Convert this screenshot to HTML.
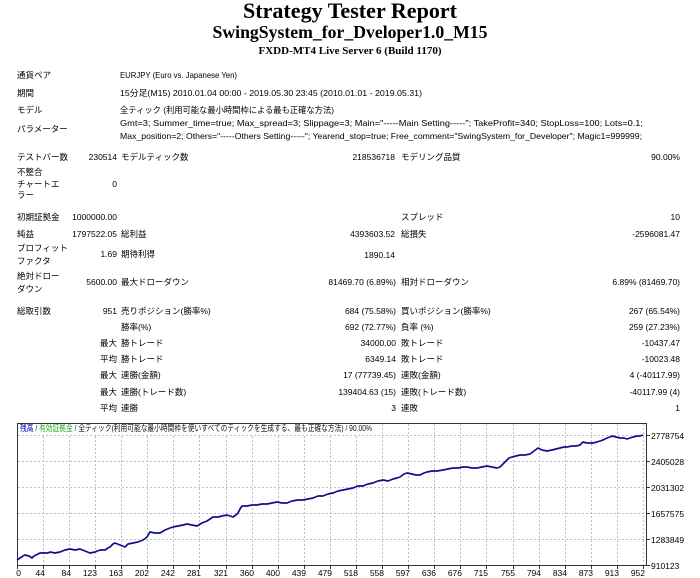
<!DOCTYPE html>
<html><head><meta charset="utf-8"><style>
html,body{margin:0;padding:0;background:#fff;}
svg{display:block;}
.t{font-family:"Liberation Sans","Noto Sans CJK JP",sans-serif;font-size:8.5px;fill:#000;}
.h{font-family:"Liberation Serif","Noto Serif CJK SC",serif;font-weight:bold;fill:#000;}
.r{text-anchor:end;}
.ax{font-family:"Liberation Sans",sans-serif;font-size:8.5px;fill:#000;}
</style></head><body>
<svg width="700" height="578" viewBox="0 0 700 578" xmlns="http://www.w3.org/2000/svg">
<rect width="700" height="578" fill="#fff"/>
<!-- headers -->
<text class="h" x="350" y="18" font-size="22" text-anchor="middle" textLength="214" lengthAdjust="spacingAndGlyphs">Strategy Tester Report</text>
<text class="h" x="350" y="38" font-size="18" text-anchor="middle" textLength="275" lengthAdjust="spacingAndGlyphs">SwingSystem_for_Dveloper1.0_M15</text>
<text class="h" x="350" y="54" font-size="11" text-anchor="middle" textLength="183" lengthAdjust="spacingAndGlyphs">FXDD-MT4 Live Server 6 (Build 1170)</text>

<!-- info rows -->
<text class="t" x="17" y="78">通貨ペア</text>
<text class="t" x="120" y="78" textLength="117" lengthAdjust="spacingAndGlyphs">EURJPY (Euro vs. Japanese Yen)</text>
<text class="t" x="17" y="96">期間</text>
<text class="t" x="120" y="96" textLength="302" lengthAdjust="spacingAndGlyphs">15分足(M15) 2010.01.04 00:00 - 2019.05.30 23:45 (2010.01.01 - 2019.05.31)</text>
<text class="t" x="17" y="113">モデル</text>
<text class="t" x="120" y="113" textLength="214" lengthAdjust="spacingAndGlyphs">全ティック (利用可能な最小時間枠による最も正確な方法)</text>
<text class="t" x="17" y="132">パラメーター</text>
<text class="t" x="120" y="126" textLength="523" lengthAdjust="spacingAndGlyphs">Gmt=3; Summer_time=true; Max_spread=3; Slippage=3; Main="-----Main Setting-----"; TakeProfit=340; StopLoss=100; Lots=0.1;</text>
<text class="t" x="120" y="139" textLength="522" lengthAdjust="spacingAndGlyphs">Max_position=2; Others="-----Others Setting-----"; Yearend_stop=true; Free_comment="SwingSystem_for_Developer"; Magic1=999999;</text>

<text class="t" x="17" y="160">テストバー数</text>
<text class="t r" x="117" y="160">230514</text>
<text class="t" x="121" y="160">モデルティック数</text>
<text class="t r" x="395" y="160">218536718</text>
<text class="t" x="401" y="160">モデリング品質</text>
<text class="t r" x="680" y="160">90.00%</text>

<text class="t" x="17" y="175">不整合</text>
<text class="t" x="17" y="187">チャートエ</text>
<text class="t" x="17" y="198">ラー</text>
<text class="t r" x="117" y="187">0</text>

<text class="t" x="17" y="220">初期証拠金</text>
<text class="t r" x="117" y="220">1000000.00</text>
<text class="t" x="401" y="220">スプレッド</text>
<text class="t r" x="680" y="220">10</text>

<text class="t" x="17" y="237">純益</text>
<text class="t r" x="117" y="237">1797522.05</text>
<text class="t" x="121" y="237">総利益</text>
<text class="t r" x="395" y="237">4393603.52</text>
<text class="t" x="401" y="237">総損失</text>
<text class="t r" x="680" y="237">-2596081.47</text>

<text class="t" x="17" y="251">プロフィット</text>
<text class="t" x="17" y="264">ファクタ</text>
<text class="t r" x="117" y="257">1.69</text>
<text class="t" x="121" y="257">期待利得</text>
<text class="t r" x="395" y="258">1890.14</text>

<text class="t" x="17" y="279">絶対ドロー</text>
<text class="t" x="17" y="292">ダウン</text>
<text class="t r" x="117" y="285">5600.00</text>
<text class="t" x="121" y="285">最大ドローダウン</text>
<text class="t r" x="396" y="285">81469.70 (6.89%)</text>
<text class="t" x="401" y="285">相対ドローダウン</text>
<text class="t r" x="680" y="285">6.89% (81469.70)</text>

<text class="t" x="17" y="314">総取引数</text>
<text class="t r" x="117" y="314">951</text>
<text class="t" x="121" y="314">売りポジション(勝率%)</text>
<text class="t r" x="396" y="314">684 (75.58%)</text>
<text class="t" x="401" y="314">買いポジション(勝率%)</text>
<text class="t r" x="680" y="314">267 (65.54%)</text>

<text class="t" x="121" y="330">勝率(%)</text>
<text class="t r" x="396" y="330">692 (72.77%)</text>
<text class="t" x="401" y="330">負率 (%)</text>
<text class="t r" x="680" y="330">259 (27.23%)</text>

<text class="t r" x="117" y="346">最大</text>
<text class="t" x="121" y="346">勝トレード</text>
<text class="t r" x="396" y="346">34000.00</text>
<text class="t" x="401" y="346">敗トレード</text>
<text class="t r" x="680" y="346">-10437.47</text>

<text class="t r" x="117" y="362">平均</text>
<text class="t" x="121" y="362">勝トレード</text>
<text class="t r" x="396" y="362">6349.14</text>
<text class="t" x="401" y="362">敗トレード</text>
<text class="t r" x="680" y="362">-10023.48</text>

<text class="t r" x="117" y="378">最大</text>
<text class="t" x="121" y="378">連勝(金額)</text>
<text class="t r" x="396" y="378">17 (77739.45)</text>
<text class="t" x="401" y="378">連敗(金額)</text>
<text class="t r" x="680" y="378">4 (-40117.99)</text>

<text class="t r" x="117" y="395">最大</text>
<text class="t" x="121" y="395">連勝(トレード数)</text>
<text class="t r" x="396" y="395">139404.63 (15)</text>
<text class="t" x="401" y="395">連敗(トレード数)</text>
<text class="t r" x="680" y="395">-40117.99 (4)</text>

<text class="t r" x="117" y="411">平均</text>
<text class="t" x="121" y="411">連勝</text>
<text class="t r" x="396" y="411">3</text>
<text class="t" x="401" y="411">連敗</text>
<text class="t r" x="680" y="411">1</text>

<!-- chart grid -->
<g stroke="#bdbdbd" stroke-width="1" stroke-dasharray="2,2" fill="none">
<line x1="18" y1="435.5" x2="647" y2="435.5"/>
<line x1="18" y1="461.5" x2="647" y2="461.5"/>
<line x1="18" y1="487.5" x2="647" y2="487.5"/>
<line x1="18" y1="513.5" x2="647" y2="513.5"/>
<line x1="18" y1="539.5" x2="647" y2="539.5"/>
<line x1="43.5" y1="424" x2="43.5" y2="565"/>
<line x1="69.5" y1="424" x2="69.5" y2="565"/>
<line x1="95.5" y1="424" x2="95.5" y2="565"/>
<line x1="121.5" y1="424" x2="121.5" y2="565"/>
<line x1="147.5" y1="424" x2="147.5" y2="565"/>
<line x1="173.5" y1="424" x2="173.5" y2="565"/>
<line x1="199.5" y1="424" x2="199.5" y2="565"/>
<line x1="226.5" y1="424" x2="226.5" y2="565"/>
<line x1="252.5" y1="424" x2="252.5" y2="565"/>
<line x1="278.5" y1="424" x2="278.5" y2="565"/>
<line x1="304.5" y1="424" x2="304.5" y2="565"/>
<line x1="330.5" y1="424" x2="330.5" y2="565"/>
<line x1="356.5" y1="424" x2="356.5" y2="565"/>
<line x1="382.5" y1="424" x2="382.5" y2="565"/>
<line x1="408.5" y1="424" x2="408.5" y2="565"/>
<line x1="434.5" y1="424" x2="434.5" y2="565"/>
<line x1="460.5" y1="424" x2="460.5" y2="565"/>
<line x1="486.5" y1="424" x2="486.5" y2="565"/>
<line x1="513.5" y1="424" x2="513.5" y2="565"/>
<line x1="539.5" y1="424" x2="539.5" y2="565"/>
<line x1="565.5" y1="424" x2="565.5" y2="565"/>
<line x1="591.5" y1="424" x2="591.5" y2="565"/>
<line x1="617.5" y1="424" x2="617.5" y2="565"/>
<line x1="643.5" y1="424" x2="643.5" y2="565"/>
</g>
<!-- legend -->
<rect x="18" y="424" width="356" height="10" fill="#fff"/>
<text class="t" x="20" y="431" textLength="352" lengthAdjust="spacingAndGlyphs"><tspan fill="#0000b0">残高</tspan><tspan fill="#333"> / </tspan><tspan fill="#22aa22">有効証拠金</tspan><tspan fill="#111"> / 全ティック(利用可能な最小時間枠を使いすべてのティックを生成する、最も正確な方法) / 90.00%</tspan></text>

<!-- frame -->
<rect x="17.5" y="423.5" width="629" height="142" fill="none" stroke="#333" stroke-width="1"/>
<!-- ticks -->
<g stroke="#333" stroke-width="1">
<line x1="647" y1="435.5" x2="650" y2="435.5"/>
<line x1="647" y1="461.5" x2="650" y2="461.5"/>
<line x1="647" y1="487.5" x2="650" y2="487.5"/>
<line x1="647" y1="513.5" x2="650" y2="513.5"/>
<line x1="647" y1="539.5" x2="650" y2="539.5"/>
<line x1="647" y1="565.5" x2="650" y2="565.5"/>
<line x1="17.5" y1="566" x2="17.5" y2="569"/>
<line x1="43.5" y1="566" x2="43.5" y2="569"/>
<line x1="69.5" y1="566" x2="69.5" y2="569"/>
<line x1="95.5" y1="566" x2="95.5" y2="569"/>
<line x1="121.5" y1="566" x2="121.5" y2="569"/>
<line x1="147.5" y1="566" x2="147.5" y2="569"/>
<line x1="173.5" y1="566" x2="173.5" y2="569"/>
<line x1="199.5" y1="566" x2="199.5" y2="569"/>
<line x1="226.5" y1="566" x2="226.5" y2="569"/>
<line x1="252.5" y1="566" x2="252.5" y2="569"/>
<line x1="278.5" y1="566" x2="278.5" y2="569"/>
<line x1="304.5" y1="566" x2="304.5" y2="569"/>
<line x1="330.5" y1="566" x2="330.5" y2="569"/>
<line x1="356.5" y1="566" x2="356.5" y2="569"/>
<line x1="382.5" y1="566" x2="382.5" y2="569"/>
<line x1="408.5" y1="566" x2="408.5" y2="569"/>
<line x1="434.5" y1="566" x2="434.5" y2="569"/>
<line x1="460.5" y1="566" x2="460.5" y2="569"/>
<line x1="486.5" y1="566" x2="486.5" y2="569"/>
<line x1="513.5" y1="566" x2="513.5" y2="569"/>
<line x1="539.5" y1="566" x2="539.5" y2="569"/>
<line x1="565.5" y1="566" x2="565.5" y2="569"/>
<line x1="591.5" y1="566" x2="591.5" y2="569"/>
<line x1="617.5" y1="566" x2="617.5" y2="569"/>
<line x1="643.5" y1="566" x2="643.5" y2="569"/>
</g>

<!-- equity line -->
<polyline fill="none" stroke="#10108c" stroke-width="1.7" stroke-linejoin="round" points="17,560 20,558 23,556 25,555 29,556 32,558 34,556 36,555 40,553 45,553 48,553 50,552 55,553 60,552 65,550 70,549 75,550 80,549 85,551 90,553 95,552 100,550 105,550 108,548 110,547 113,544 115,543 120,545 125,547 128,544 133,543 138,542 143,540 147,537 150,532 155,533 160,533 165,530 170,528 173,527 178,526 183,525 187,524 192,525 197,526 202,523 207,521 210,519 213,517 218,517 222,516 227,515 230,516 233,517 236,515 238,513 240,509 242,506 247,506 252,505 257,505 262,504 267,504 272,503 277,502 282,503 287,503 292,501 298,500 303,500 308,499 313,498 318,496 323,496 328,494 333,493 338,491 343,490 348,489 353,488 358,486 363,486 368,484 373,483 378,481 383,480 388,481 393,479 397,478 400,477 404,474 407,473 412,474 416,475 420,475 424,473 427,472 432,471 437,471 443,470 448,469 453,468 458,468 463,467 467,467 472,468 477,468 482,467 487,466 492,467 497,468 500,467 503,464 506,461 509,458 512,457 516,456 520,455 525,455 530,454 534,451 538,448 542,450 547,451 552,450 556,449 560,448 564,447 567,447 572,446 576,446 580,445 583,442 587,443 590,443 593,443 597,442 600,441 603,440 607,438 610,437 612,436 616,437 620,438 624,438 627,439 630,438 633,437 637,436 640,436 643,435"/>

<!-- y labels -->
<text class="ax" x="651" y="439">2778754</text>
<text class="ax" x="651" y="465">2405028</text>
<text class="ax" x="651" y="491">2031302</text>
<text class="ax" x="651" y="517">1657575</text>
<text class="ax" x="651" y="543">1283849</text>
<text class="ax" x="651" y="569">910123</text>

<!-- x labels -->
<g class="ax" text-anchor="end">
<text x="21" y="576">0</text>
<text x="45" y="576">44</text>
<text x="71" y="576">84</text>
<text x="97" y="576">123</text>
<text x="123" y="576">163</text>
<text x="149" y="576">202</text>
<text x="175" y="576">242</text>
<text x="201" y="576">281</text>
<text x="228" y="576">321</text>
<text x="254" y="576">360</text>
<text x="280" y="576">400</text>
<text x="306" y="576">439</text>
<text x="332" y="576">479</text>
<text x="358" y="576">518</text>
<text x="384" y="576">558</text>
<text x="410" y="576">597</text>
<text x="436" y="576">636</text>
<text x="462" y="576">676</text>
<text x="488" y="576">715</text>
<text x="515" y="576">755</text>
<text x="541" y="576">794</text>
<text x="567" y="576">834</text>
<text x="593" y="576">873</text>
<text x="619" y="576">913</text>
<text x="645" y="576">952</text>
</g>
</svg>
</body></html>
